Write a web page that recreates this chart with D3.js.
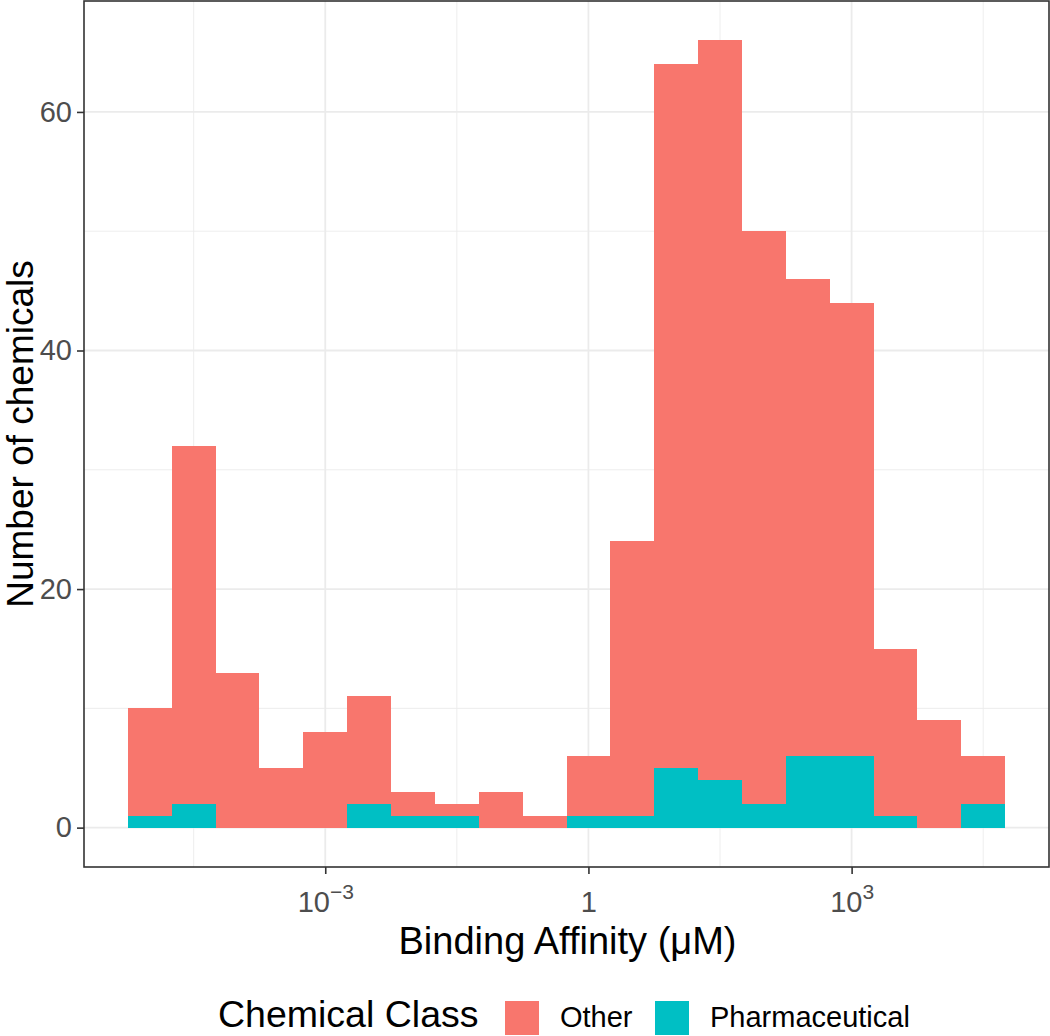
<!DOCTYPE html>
<html>
<head>
<meta charset="utf-8">
<script src="https://cdn.jsdelivr.net/npm/d3@7"></script>
<style>
  html, body { margin: 0; padding: 0; background: #ffffff; }
  svg { display: block; }
  text { font-family: "Liberation Sans", Arial, Helvetica, sans-serif; }
</style>
</head>
<body>
<svg id="chart" width="1050" height="1036"></svg>
<script>
// ---- Data ----
// bin centres in log10(µM), bin width 0.5 decade
const binCenters = [-5, -4.5, -4, -3.5, -3, -2.5, -2, -1.5, -1, -0.5, 0, 0.5, 1, 1.5, 2, 2.5, 3, 3.5, 4, 4.5];
const binWidthLog = 0.5;
const pharmaCounts = [1, 2, 0, 0, 0, 2, 1, 1, 0, 0, 1, 1, 5, 4, 2, 6, 6, 1, 0, 2];
const otherCounts  = [9, 30, 13, 5, 8, 9, 2, 1, 3, 1, 5, 23, 59, 62, 48, 40, 38, 14, 9, 4];
const classes = ["Other", "Pharmaceutical"];
const classColors = ["#F8766D", "#00BFC4"];
const xMajorTicks = [-3, 0, 3];        // log10 exponents
const xMinorTicks = [-4.5, -1.5, 1.5, 4.5];
const yMajorTicks = [0, 20, 40, 60];
const yMinorTicks = [10, 30, 50];
const xTitle = "Binding Affinity (\u03BCM)";
const yTitle = "Number of chemicals";
const legendTitle = "Chemical Class";

// ---- Layout ----
const panel = { left: 84, right: 1049, top: 1, bottom: 867 };
const svg = d3.select("#chart");

const x = d3.scaleLog()
  .domain([Math.pow(10, -5.75), Math.pow(10, 5.25)])
  .range([panel.left, panel.right]);
const totals = otherCounts.map((o, i) => o + pharmaCounts[i]);
const yMax = d3.max(totals);
const y = d3.scaleLinear()
  .domain([-0.05 * yMax, yMax * 1.05])
  .range([panel.bottom, panel.top]);

// grid
const grid = svg.append("g");
grid.selectAll(".ymin").data(yMinorTicks).join("line")
  .attr("x1", panel.left).attr("x2", panel.right)
  .attr("y1", d => y(d)).attr("y2", d => y(d))
  .attr("stroke", "#EBEBEB").attr("stroke-width", 0.9);
grid.selectAll(".xmin").data(xMinorTicks).join("line")
  .attr("y1", panel.top).attr("y2", panel.bottom)
  .attr("x1", d => x(Math.pow(10, d))).attr("x2", d => x(Math.pow(10, d)))
  .attr("stroke", "#EBEBEB").attr("stroke-width", 0.9);
grid.selectAll(".ymaj").data(yMajorTicks).join("line")
  .attr("x1", panel.left).attr("x2", panel.right)
  .attr("y1", d => y(d)).attr("y2", d => y(d))
  .attr("stroke", "#EBEBEB").attr("stroke-width", 1.8);
grid.selectAll(".xmaj").data(xMajorTicks).join("line")
  .attr("y1", panel.top).attr("y2", panel.bottom)
  .attr("x1", d => x(Math.pow(10, d))).attr("x2", d => x(Math.pow(10, d)))
  .attr("stroke", "#EBEBEB").attr("stroke-width", 1.8);

// stacked bars
const rows = binCenters.map((c, i) => ({ c, Other: otherCounts[i], Pharmaceutical: pharmaCounts[i] }));
const stack = d3.stack().keys(["Pharmaceutical", "Other"])(rows);
const colorOf = d3.scaleOrdinal().domain(classes).range(classColors);
svg.append("g").selectAll("g").data(stack).join("g")
  .attr("fill", d => colorOf(d.key))
  .selectAll("rect").data(d => d).join("rect")
  .attr("x", d => x(Math.pow(10, d.data.c - binWidthLog / 2)))
  .attr("width", d => x(Math.pow(10, d.data.c + binWidthLog / 2)) - x(Math.pow(10, d.data.c - binWidthLog / 2)))
  .attr("y", d => y(d[1]))
  .attr("height", d => Math.max(0, y(d[0]) - y(d[1])))
  .attr("shape-rendering", "crispEdges");

// panel border
svg.append("rect")
  .attr("x", panel.left).attr("y", panel.top)
  .attr("width", panel.right - panel.left).attr("height", panel.bottom - panel.top)
  .attr("fill", "none").attr("stroke", "#333333").attr("stroke-width", 1.6);

// y axis
const yAxis = d3.axisLeft(y).tickValues(yMajorTicks).tickSize(7).tickPadding(5).tickFormat(d3.format("d"));
const gy = svg.append("g").attr("transform", `translate(${panel.left},0)`).call(yAxis);
gy.select(".domain").remove();
gy.selectAll(".tick line").attr("stroke", "#333333").attr("stroke-width", 1.6);
gy.selectAll(".tick text").attr("fill", "#4D4D4D").style("font-size", "29px")
  .style("font-family", "'Liberation Sans', Arial, sans-serif");

// x axis
const xAxis = d3.axisBottom(x).tickValues(xMajorTicks.map(e => Math.pow(10, e))).tickSize(7).tickFormat("");
const gx = svg.append("g").attr("transform", `translate(0,${panel.bottom})`).call(xAxis);
gx.select(".domain").remove();
gx.selectAll(".tick line").attr("stroke", "#333333").attr("stroke-width", 1.6);
gx.selectAll(".tick").each(function(d) {
  const e = Math.round(Math.log10(d));
  const t = d3.select(this).append("text")
    .attr("y", 45).attr("fill", "#4D4D4D")
    .style("font-size", "29px").attr("text-anchor", "middle");
  if (e === 0) {
    t.text("1");
  } else {
    t.append("tspan").text("10");
    t.append("tspan").attr("dy", -13).style("font-size", "21px")
      .text(e < 0 ? "\u2212" + Math.abs(e) : String(e));
  }
});

// axis titles
svg.append("text")
  .attr("x", (panel.left + panel.right) / 2 + 1).attr("y", 954)
  .attr("text-anchor", "middle").attr("fill", "#000")
  .style("font-size", "38px").text(xTitle);
svg.append("text")
  .attr("transform", `translate(33,${(panel.top + panel.bottom) / 2}) rotate(-90)`)
  .attr("text-anchor", "middle").attr("fill", "#000")
  .style("font-size", "37px").text(yTitle);

// legend
const lg = svg.append("g");
lg.append("text").attr("x", 218).attr("y", 1027).attr("fill", "#000")
  .style("font-size", "37.5px").text(legendTitle);
const keyX = [505, 655];
const labX = [560, 710];
classes.forEach((c, i) => {
  lg.append("rect").attr("x", keyX[i]).attr("y", 1001).attr("width", 34).attr("height", 34)
    .attr("fill", colorOf(c));
  lg.append("text").attr("x", labX[i]).attr("y", 1027).attr("fill", "#000")
    .style("font-size", "29px").text(c);
});
</script>
</body>
</html>
